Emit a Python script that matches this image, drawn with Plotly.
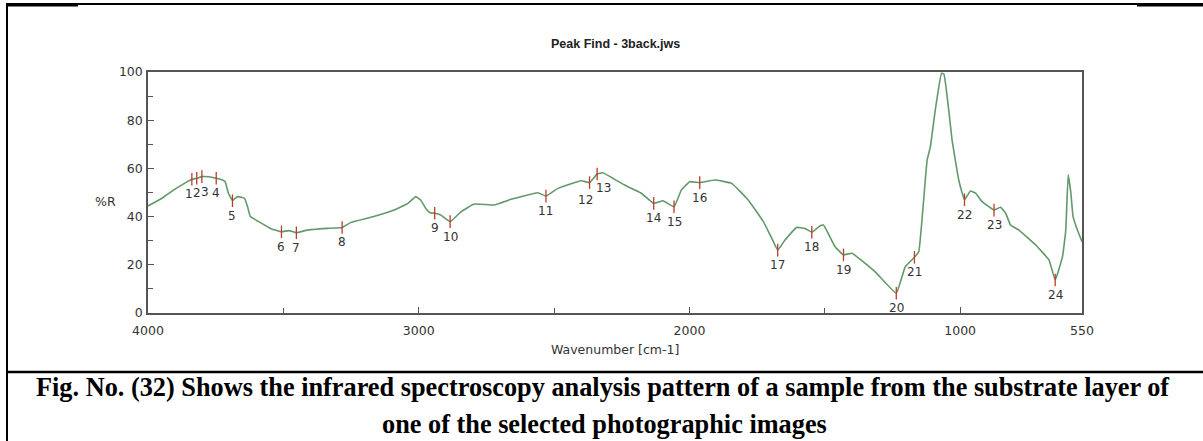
import plotly.graph_objects as go

# ---- data ----
wavenumber = [4000, 3950, 3906, 3870, 3838, 3820, 3801, 3775, 3748, 3725, 3715, 3703, 3688, 3676,
              3666, 3644, 3632, 3622, 3597, 3548, 3507, 3480, 3452, 3412, 3338, 3283, 3252, 3166,
              3091, 3040, 3011, 2993, 2974, 2958, 2941, 2919, 2884, 2844, 2795, 2721, 2659, 2560,
              2530, 2486, 2400, 2369, 2341, 2320, 2240, 2178, 2132, 2098, 2057, 2030, 1999, 1962,
              1906, 1844, 1783, 1727, 1696, 1674, 1647, 1604, 1573, 1548, 1520, 1505, 1462, 1431,
              1400, 1314, 1236, 1203, 1169, 1153, 1138, 1122, 1110, 1092, 1069, 1060, 1042, 1030,
              1005, 984, 962, 943, 919, 894, 875, 851, 832, 814, 783, 721, 672, 649, 622, 610,
              601, 591, 583, 567, 550]
reflectance = [44.4, 47.5, 51.0, 53.5, 55.5, 55.9, 56.6, 56.5, 55.9, 55.2, 54.5, 49.7, 46.6, 47.8,
               48.3, 47.6, 44.0, 40.0, 38.3, 35.1, 33.7, 34.2, 33.3, 34.4, 35.1, 35.5, 37.5, 40.0,
               42.7, 45.5, 48.3, 46.9, 43.4, 41.6, 41.4, 40.7, 37.9, 42.0, 45.2, 44.8, 47.2, 49.9,
               48.5, 51.7, 54.9, 54.1, 57.7, 58.2, 53.1, 49.7, 45.5, 46.6, 44.1, 51.0, 54.5, 54.1,
               55.2, 53.8, 46.9, 37.9, 31.0, 26.1, 30.3, 35.5, 35.1, 33.5, 36.0, 36.5, 27.5, 24.1,
               24.8, 17.1, 8.2, 19.2, 23.1, 25.4, 42.7, 63.5, 69.0, 84.2, 99.5, 99.2, 84.0, 71.8,
               55.0, 47.0, 50.6, 49.7, 46.2, 44.1, 42.7, 43.9, 41.4, 36.5, 34.4, 28.2, 22.0, 13.7,
               23.4, 34.4, 57.3, 49.7, 40.0, 34.4, 29.6]

peak_labels = [str(i) for i in range(1, 25)]
peak_wn = [3838, 3820, 3801, 3748, 3688, 3507, 3452, 3283, 2941, 2884, 2530, 2369, 2341, 2132,
           2057, 1962, 1674, 1548, 1431, 1236, 1169, 984, 875, 649]
peak_r = [55.5, 55.9, 56.6, 55.9, 46.6, 33.7, 33.3, 35.5, 41.4, 37.9, 48.5, 54.1, 57.7, 45.5,
          44.1, 54.1, 26.1, 33.5, 24.1, 8.2, 23.1, 47.0, 42.7, 13.7]

x_ticks = [4000, 3000, 2000, 1000, 550]
x_minor = [3500, 2500, 1500]
y_ticks = [0, 20, 40, 60, 80, 100]
y_minor = [10, 30, 50, 70, 90]

title_text = "Peak Find - 3back.jws"
x_title = "Wavenumber [cm-1]"
y_title = "%R"
caption_1 = "Fig. No. (32) Shows the infrared spectroscopy analysis pattern of a sample from the substrate layer of"
caption_2 = "one of the selected photographic images"

# ---- layout geometry (pixels) ----
W, H = 1203, 441
L, R, T, B = 148, 1082, 72, 313
PW, PH = R - L, B - T


def px(x):
    return (x - L) / PW


def py(y):
    return (B - y) / PH


# label nudges (pixels) so crowded peak numbers stay readable
label_dx = [0] * len(peak_labels)
label_dy = [-15] * len(peak_labels)
label_dx[0], label_dx[2] = -3, 3
label_dx[11], label_dy[11] = -4, -17
label_dx[12], label_dy[12] = 6, -14

fig = go.Figure()
fig.add_trace(go.Scatter(
    x=wavenumber, y=reflectance, mode="lines",
    line=dict(color="#62996a", width=1.6, shape="spline", smoothing=0.3),
    hoverinfo="skip", showlegend=False))
fig.add_trace(go.Scatter(
    x=peak_wn, y=peak_r, mode="markers",
    marker=dict(symbol="line-ns", size=9, line=dict(color="#c0392b", width=1.3)),
    hoverinfo="skip", showlegend=False))

axis_font = dict(family="DejaVu Sans", size=12.5, color="#333333")
fig.update_xaxes(range=[4000, 550], autorange=False, showline=True, mirror=True,
                 linecolor="#555555", linewidth=1.5, ticks="inside", ticklen=6,
                 tickcolor="#555555", tickvals=x_ticks, ticktext=[str(v) for v in x_ticks],
                 tickfont=axis_font, showgrid=False, zeroline=False, ticklabelstandoff=5,
                 minor=dict(tickvals=x_minor, ticks="inside", ticklen=5, tickcolor="#555555"))
fig.update_yaxes(range=[0, 100], autorange=False, showline=True, mirror=True,
                 linecolor="#555555", linewidth=1.5, ticks="inside", ticklen=6,
                 tickcolor="#555555", tickvals=y_ticks, ticktext=[str(v) for v in y_ticks],
                 tickfont=axis_font, showgrid=False, zeroline=False, ticklabelstandoff=1,
                 minor=dict(tickvals=y_minor, ticks="inside", ticklen=5, tickcolor="#555555"))

line_black = dict(color="black", width=2)
shapes = [
    dict(type="line", xref="paper", yref="paper", x0=px(7), x1=px(7), y0=py(3), y1=py(441), line=line_black),
    dict(type="line", xref="paper", yref="paper", x0=px(7), x1=px(1203), y0=py(4), y1=py(4), line=line_black),
    dict(type="line", xref="paper", yref="paper", x0=px(7), x1=px(78), y0=py(5), y1=py(5),
         line=dict(color="black", width=3)),
    dict(type="line", xref="paper", yref="paper", x0=px(1137), x1=px(1203), y0=py(5), y1=py(5),
         line=dict(color="black", width=3)),
    dict(type="line", xref="paper", yref="paper", x0=px(7), x1=px(1203), y0=py(372), y1=py(372),
         line=dict(color="black", width=2.5)),
]


def ann(text, x, y, font):
    return dict(text=text, x=px(x), y=py(y), xref="paper", yref="paper",
                xanchor="center", yanchor="middle", showarrow=False, font=font)


caption_font = dict(family="Liberation Serif", size=26.3, color="black")
annotations = [
    ann("<b>" + title_text + "</b>", 615, 44, dict(family="Liberation Sans", size=12.5, color="#222222")),
    ann(y_title, 105, 201, axis_font),
    ann(x_title, 615, 349, axis_font),
    ann("<b>" + caption_1 + "</b>", 603, 387, caption_font),
    ann("<b>" + caption_2 + "</b>", 604, 424, caption_font),
]
peak_font = dict(family="DejaVu Sans", size=12, color="#333333")
for lab, xw, yr, dx, dy in zip(peak_labels, peak_wn, peak_r, label_dx, label_dy):
    annotations.append(dict(text=lab, x=xw, y=yr, xref="x", yref="y", xshift=dx, yshift=dy,
                            xanchor="center", yanchor="middle", showarrow=False, font=peak_font))

fig.update_layout(width=W, height=H, margin=dict(l=L, r=W - R, t=T, b=H - B, pad=0),
                  plot_bgcolor="white", paper_bgcolor="white", shapes=shapes,
                  annotations=annotations, showlegend=False)

fig.write_html("out.html")
